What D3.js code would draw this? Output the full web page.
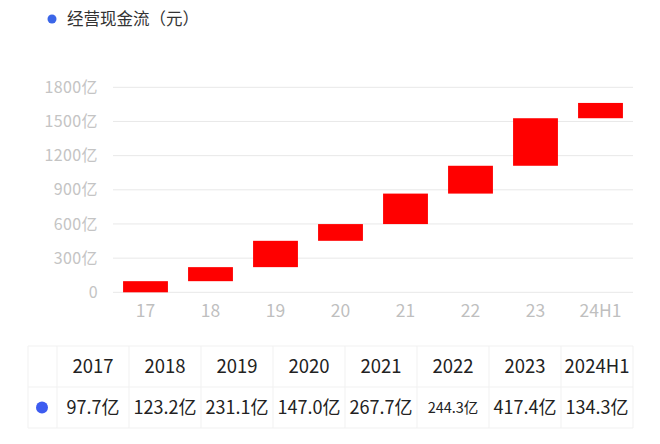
<!DOCTYPE html>
<html><head><meta charset="utf-8">
<script src="https://cdn.jsdelivr.net/npm/d3@7"></script>
<style>
html,body{margin:0;padding:0;background:#fff;}
svg{display:block;font-family:"Noto Sans CJK SC","Noto Sans",sans-serif;}
</style></head>
<body>
<svg id="c" width="660" height="444"></svg>
<script>
const categories = ["17","18","19","20","21","22","23","24H1"];
const years = ["2017","2018","2019","2020","2021","2022","2023","2024H1"];
const values = [97.7,123.2,231.1,147.0,267.7,244.3,417.4,134.3];
const valueLabels = ["97.7亿","123.2亿","231.1亿","147.0亿","267.7亿","244.3亿","417.4亿","134.3亿"];
const yTicks = [0,300,600,900,1200,1500,1800];
const seriesName = "经营现金流（元）";

const svg = d3.select("#c");
const x = d3.scaleBand().domain(categories).range([113,633]).paddingInner(0.31).paddingOuter(0.155);
const y = d3.scaleLinear().domain([0,1800]).range([292.3,87.3]);

// legend
svg.append("circle").attr("cx",52).attr("cy",19).attr("r",4.5).attr("fill","#3b66e8");
svg.append("text").attr("x",67).attr("y",19).attr("dy","0.35em").attr("font-size",16.5).attr("fill","#333").text(seriesName);

// grid
svg.append("g").selectAll("line").data(yTicks).join("line")
  .attr("x1",113).attr("x2",633).attr("y1",d=>y(d)).attr("y2",d=>y(d))
  .attr("stroke","#e8e8e8").attr("stroke-width",1);

// y axis labels
const yAxis = d3.axisLeft(y).tickValues(yTicks).tickSize(0).tickPadding(0)
  .tickFormat(d=> d===0 ? "0" : d+"亿");
const ya = svg.append("g").attr("transform","translate(98,0)").call(yAxis);
ya.select(".domain").remove();
ya.selectAll("text").attr("font-size",16).attr("letter-spacing","0.4px").attr("fill","#c4c4c4").attr("font-family","'Noto Sans CJK SC',sans-serif");

// x axis labels
const xAxis = d3.axisBottom(x).tickSize(0).tickPadding(0);
const xa = svg.append("g").attr("transform","translate(0,305)").call(xAxis);
xa.select(".domain").remove();
xa.selectAll("text").attr("font-size",17.5).attr("fill","#bfbfbf").attr("font-family","'Noto Sans CJK SC',sans-serif");

// waterfall bars
let cum = 0;
const bars = values.map((v,i)=>{ const s=cum; cum+=v; return {c:categories[i],start:s,end:cum}; });
svg.append("g").selectAll("rect").data(bars).join("rect")
  .attr("x",d=>x(d.c)).attr("width",x.bandwidth())
  .attr("y",d=>y(d.end)).attr("height",d=>y(d.start)-y(d.end))
  .attr("fill","#ff0000");

// table
const tx = d3.scaleBand().domain(years).range([57,633]);
const tLeft=28, tTop=346, tMid=387, tBot=428;
const tg = svg.append("g");
const bc = "#f1f1f1";
[tTop,tMid,tBot].forEach(yy=>tg.append("line").attr("x1",tLeft).attr("x2",633).attr("y1",yy).attr("y2",yy).attr("stroke",bc));
[tLeft,...years.map(d=>tx(d)),633].forEach(xx=>tg.append("line").attr("x1",xx).attr("x2",xx).attr("y1",tTop).attr("y2",tBot).attr("stroke",bc));
tg.selectAll("text.h").data(years).join("text").attr("class","h")
  .attr("x",d=>tx(d)+tx.bandwidth()/2).attr("y",(tTop+tMid)/2).attr("dy","0.35em")
  .attr("text-anchor","middle").attr("font-size",18.5).attr("fill","#222").text(d=>d);
tg.selectAll("text.v").data(valueLabels).join("text").attr("class","v")
  .attr("x",(d,i)=>tx(years[i])+tx.bandwidth()/2).attr("y",(tMid+tBot)/2).attr("dy","0.35em")
  .attr("text-anchor","middle").attr("font-size",(d,i)=> i===5?14.5:18).attr("fill","#222").text(d=>d);
tg.append("circle").attr("cx",42).attr("cy",(tMid+tBot)/2).attr("r",6).attr("fill","#3d5cf0");
</script>
</body></html>
